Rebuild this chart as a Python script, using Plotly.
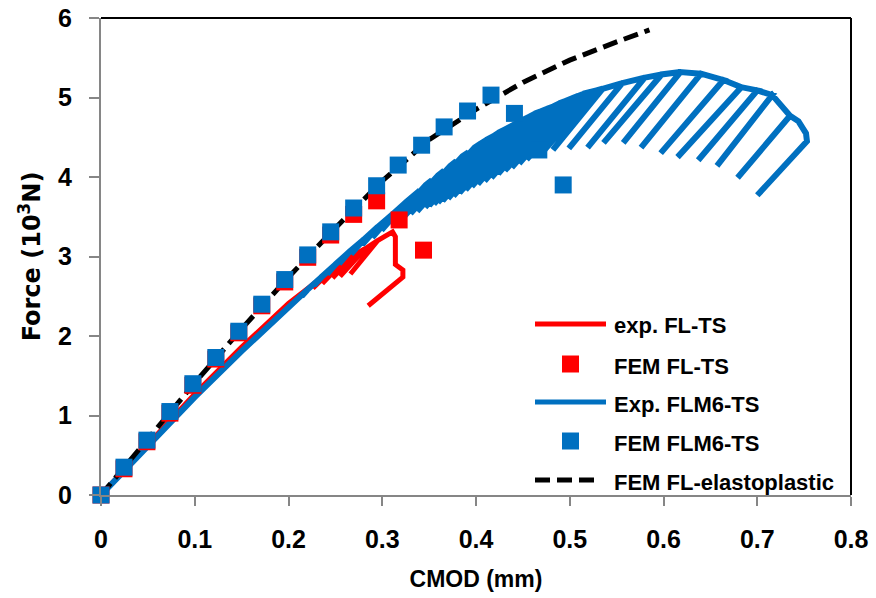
import plotly.graph_objects as go

# ---------------- data ----------------
# Exp. FLM6-TS (cyclic CMOD curve): initial branch, cycle peaks, cycle unload ends, final branch
blue_env_x = [0, 0.05, 0.1, 0.15, 0.2]
blue_env_y = [0, 0.62, 1.23, 1.81, 2.37]
blue_top_x = [0.22, 0.235, 0.25, 0.265, 0.28, 0.295, 0.31, 0.325,
              0.34, 0.3465, 0.353, 0.3595, 0.366, 0.3725, 0.379, 0.3855, 0.392, 0.3985,
              0.405, 0.4115, 0.418, 0.4245, 0.431, 0.4375, 0.444, 0.4505, 0.457, 0.4635,
              0.47, 0.4765, 0.483, 0.4895, 0.496, 0.5025, 0.509, 0.5155, 0.522, 0.5285,
              0.535, 0.556, 0.58, 0.598, 0.618, 0.64, 0.664, 0.683, 0.70, 0.716, 0.735]
blue_top_y = [2.58, 2.74, 2.90, 3.06, 3.21, 3.37, 3.52, 3.68,
              3.83, 3.90, 3.96, 4.02, 4.08, 4.14, 4.20, 4.26, 4.31, 4.37,
              4.42, 4.47, 4.51, 4.56, 4.60, 4.64, 4.68, 4.72, 4.76, 4.80,
              4.83, 4.86, 4.89, 4.93, 4.96, 4.99, 5.02, 5.05, 5.07, 5.09,
              5.11, 5.18, 5.25, 5.29, 5.32, 5.30, 5.22, 5.13, 5.09, 5.03, 4.77]
blue_low_x = [0.214, 0.2276, 0.2411, 0.2539, 0.2667, 0.2787, 0.2893, 0.2991,
              0.3089, 0.3124, 0.316, 0.3195, 0.323, 0.3266, 0.3301, 0.3336, 0.3372, 0.3415,
              0.3457, 0.350, 0.355, 0.3593, 0.3643, 0.3701, 0.3759, 0.3824, 0.3889, 0.3954,
              0.4019, 0.4091, 0.4163, 0.4236, 0.4308, 0.4381, 0.446, 0.454, 0.4627, 0.4715,
              0.482, 0.499, 0.519, 0.536, 0.557, 0.576, 0.597, 0.615, 0.637, 0.657, 0.679]
blue_low_y = [2.50, 2.64, 2.78, 2.91, 3.03, 3.15, 3.24, 3.33,
              3.41, 3.44, 3.46, 3.48, 3.50, 3.52, 3.54, 3.56, 3.57, 3.60,
              3.62, 3.64, 3.66, 3.68, 3.70, 3.73, 3.76, 3.80, 3.84, 3.88,
              3.91, 3.95, 3.99, 4.04, 4.08, 4.12, 4.17, 4.22, 4.27, 4.32,
              4.34, 4.36, 4.37, 4.43, 4.43, 4.37, 4.30, 4.25, 4.21, 4.14, 3.99]
blue_tail_x = [0.744, 0.752, 0.753, 0.70]
blue_tail_y = [4.70, 4.55, 4.45, 3.77]

# exp. FL-TS
red_env_x = [0, 0.05, 0.1, 0.15, 0.2, 0.225]
red_env_y = [0, 0.64, 1.27, 1.86, 2.41, 2.64]
red_top_x = [0.245, 0.258, 0.27, 0.282, 0.295]
red_top_y = [2.82, 2.93, 3.02, 3.10, 3.20]
red_low_x = [0.226, 0.236, 0.247, 0.255, 0.266]
red_low_y = [2.60, 2.66, 2.73, 2.75, 2.78]
red_tail_x = [0.305, 0.311, 0.314, 0.314, 0.322, 0.322, 0.285]
red_tail_y = [3.27, 3.31, 3.25, 2.90, 2.83, 2.74, 2.38]

# FEM FLM6-TS
fem_blue_x = [0, 0.0245, 0.049, 0.0735, 0.098, 0.1225, 0.147, 0.1715, 0.196, 0.2205, 0.245,
              0.2695, 0.294, 0.317, 0.342, 0.366, 0.391, 0.416, 0.441, 0.467, 0.493]
fem_blue_y = [0, 0.35, 0.69, 1.05, 1.40, 1.73, 2.06, 2.40, 2.71, 3.02, 3.31,
              3.61, 3.89, 4.15, 4.40, 4.63, 4.83, 5.03, 4.80, 4.34, 3.90]

# FEM FL-TS
fem_red_x = [0, 0.0245, 0.049, 0.0735, 0.098, 0.1225, 0.147, 0.1715, 0.196, 0.2205, 0.245,
             0.2695, 0.294, 0.318, 0.344]
fem_red_y = [0, 0.33, 0.67, 1.03, 1.38, 1.71, 2.04, 2.38, 2.68, 2.99, 3.27,
             3.53, 3.70, 3.46, 3.08]

# FEM FL-elastoplastic
dash_x = [0, 0.05, 0.1, 0.15, 0.2, 0.25, 0.3, 0.35, 0.4, 0.45, 0.5, 0.55, 0.585]
dash_y = [0, 0.71, 1.41, 2.09, 2.74, 3.36, 3.95, 4.47, 4.85, 5.19, 5.47, 5.70, 5.85]

x_ticks = [0, 0.1, 0.2, 0.3, 0.4, 0.5, 0.6, 0.7, 0.8]
x_tick_text = ["0", "0.1", "0.2", "0.3", "0.4", "0.5", "0.6", "0.7", "0.8"]
y_ticks = [0, 1, 2, 3, 4, 5, 6]
y_tick_text = ["0", "1", "2", "3", "4", "5", "6"]

legend_names = ["exp. FL-TS", "FEM FL-TS", "Exp. FLM6-TS", "FEM FLM6-TS", "FEM FL-elastoplastic"]

RED = "#FF0000"
BLUE = "#0070C0"
FONT = "Liberation Sans, Arial, sans-serif"
WIDE = "DejaVu Sans, sans-serif"


def cyclic_path(env_x, env_y, top_x, top_y, low_x, low_y, tail_x, tail_y):
    xs, ys = list(env_x), list(env_y)
    for tx, ty, lx, ly in zip(top_x, top_y, low_x, low_y):
        xs += [tx, lx, tx]
        ys += [ty, ly, ty]
    return xs + list(tail_x), ys + list(tail_y)


rx, ry = cyclic_path(red_env_x, red_env_y, red_top_x, red_top_y, red_low_x, red_low_y, red_tail_x, red_tail_y)
bx, by = cyclic_path(blue_env_x, blue_env_y, blue_top_x, blue_top_y, blue_low_x, blue_low_y, blue_tail_x, blue_tail_y)

fig = go.Figure()
fig.add_trace(go.Scatter(x=rx, y=ry, mode="lines", line=dict(color=RED, width=5), name=legend_names[0]))
fig.add_trace(go.Scatter(x=bx, y=by, mode="lines", line=dict(color=BLUE, width=6), name=legend_names[2]))
fig.add_trace(go.Scatter(x=dash_x, y=dash_y, mode="lines", line=dict(color="black", width=5, dash="15px,7px"),
                         name=legend_names[4]))
fig.add_trace(go.Scatter(x=fem_red_x, y=fem_red_y, mode="markers", cliponaxis=False,
                         marker=dict(symbol="square", size=17, color=RED), name=legend_names[1]))
fig.add_trace(go.Scatter(x=fem_blue_x, y=fem_blue_y, mode="markers", cliponaxis=False,
                         marker=dict(symbol="square", size=17, color=BLUE), name=legend_names[3]))

FIG_W, FIG_H = 876, 598
L, R, T, B = 101, 851, 18, 495          # plot area in pixels
W, H = R - L, B - T


def px(xp):
    return (xp - L) / W


def py(yp):
    return (B - yp) / H


shapes = [
    dict(type="line", xref="paper", yref="paper", x0=0, x1=1, y0=1, y1=1, line=dict(color="black", width=2)),
    dict(type="line", xref="paper", yref="paper", x0=1, x1=1, y0=0, y1=1, line=dict(color="black", width=2)),
]
annotations = []

# manual legend
rows_y = [324, 364, 402, 441, 480]
kinds = [("line", RED), ("square", RED), ("line", BLUE), ("square", BLUE), ("dash", "black")]
for name, yrow, (kind, col) in zip(legend_names, rows_y, kinds):
    if kind == "line":
        shapes.append(dict(type="line", xref="paper", yref="paper", x0=px(535), x1=px(606),
                           y0=py(yrow), y1=py(yrow), line=dict(color=col, width=5)))
    elif kind == "dash":
        shapes.append(dict(type="line", xref="paper", yref="paper", x0=px(535), x1=px(600),
                           y0=py(yrow), y1=py(yrow), line=dict(color=col, width=5, dash="15px,7px")))
    else:
        shapes.append(dict(type="rect", xref="paper", yref="paper", x0=px(562), x1=px(579),
                           y0=py(yrow + 8.5), y1=py(yrow - 8.5), line=dict(width=0), fillcolor=col))
    annotations.append(dict(xref="paper", yref="paper", x=px(612), y=py(yrow + 2), xanchor="left",
                            yanchor="middle", text=name, showarrow=False,
                            font=dict(family=FONT, size=22, color="black", weight="bold")))

fig.update_layout(
    width=FIG_W, height=FIG_H,
    margin=dict(l=L, r=FIG_W - R, t=T, b=FIG_H - B, autoexpand=False),
    paper_bgcolor="white", plot_bgcolor="white",
    showlegend=False,
    shapes=shapes, annotations=annotations,
    font=dict(family=FONT, size=22, color="black", weight="bold"),
    xaxis=dict(range=[0, 0.8], tickvals=x_ticks, ticktext=x_tick_text, showgrid=False, zeroline=False,
               automargin=False, ticklabeloverflow="allow",
               showline=True, linecolor="#868686", linewidth=2, ticks="outside", ticklen=9, tickwidth=2,
               tickcolor="#868686", ticklabelstandoff=12,
               tickfont=dict(family=FONT, size=25, color="black", weight="bold"),
               title=dict(text="CMOD (mm)", standoff=19,
                          font=dict(family=FONT, size=23, color="black", weight="bold"))),
    yaxis=dict(range=[0, 6], tickvals=y_ticks, ticktext=y_tick_text, showgrid=False, zeroline=False,
               automargin=False, ticklabeloverflow="allow",
               showline=True, linecolor="#868686", linewidth=2, ticks="outside", ticklen=10, tickwidth=2,
               tickcolor="#868686", ticklabelstandoff=12,
               tickfont=dict(family=FONT, size=25, color="black", weight="bold"),
               title=dict(text="Force (10<sup>3</sup>N)", standoff=11,
                          font=dict(family=WIDE, size=24, color="black", weight="bold"))),
)

# remove the default page margin so the figure sits at the window's top-left corner
fig.write_html("out.html", config={"displayModeBar": False},
               post_script="document.body.style.margin='0px';")
